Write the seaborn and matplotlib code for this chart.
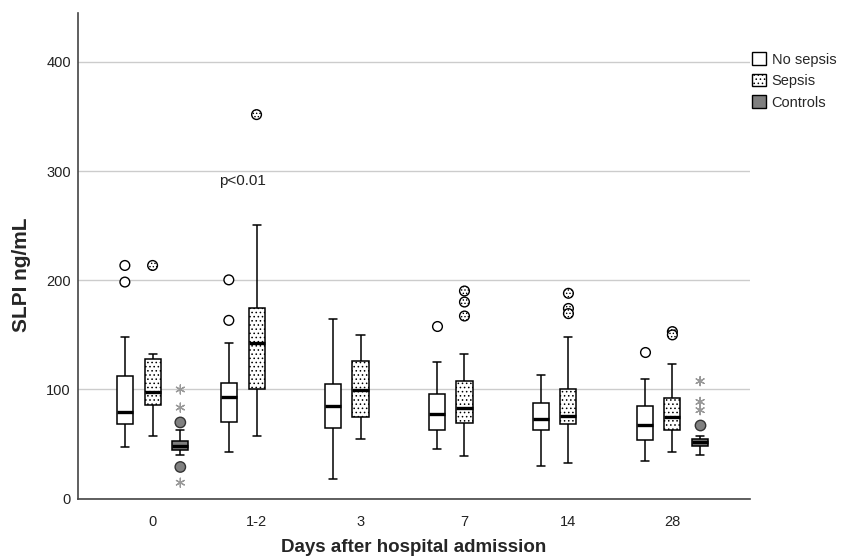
import pandas as pd
import matplotlib.pyplot as plt
import seaborn as sns
from matplotlib.patches import Patch

sns.set_theme(style='white')
plt.rcParams['font.family'] = ['Liberation Sans', 'DejaVu Sans']
plt.rcParams['hatch.linewidth'] = 0.6

days = ['0', '1-2', '3', '7', '14', '28']
groups = ['No sepsis', 'Sepsis', 'Controls']

# box stats: [whisker low, Q1, median, Q3, whisker high]
no_sepsis_box = [[47.5, 68, 79.6, 112.6, 147.8],
                 [42.9, 69.8, 93, 106.1, 143],
                 [17.6, 64.9, 84.5, 104.7, 164.8],
                 [45.4, 62.6, 77.3, 96.3, 124.8],
                 [29.8, 62.5, 72.6, 87.8, 112.9],
                 [34.3, 53.4, 67.4, 84.6, 109.5]]
sepsis_box = [[57.6, 85.4, 97.4, 127.9, 132.8],
              [57.6, 100, 143, 175, 250.3],
              [54.8, 74.7, 99.5, 126, 149.9],
              [38.9, 69.6, 82.8, 107.6, 132.8],
              [32.8, 68, 75.9, 100.7, 147.8],
              [42.3, 62.6, 74.8, 92.6, 123]]
controls_box = [[39.8, 44.4, 48, 52.6, 62.8],
                None, None, None, None,
                [39.6, 47.8, 51.8, 54.6, 57.3]]

# outliers (circles) and extreme values (asterisks)
no_sepsis_out = {'0': [213.6, 198.4], '1-2': [200.4, 163.3], '7': [158], '28': [134.6]}
sepsis_out = {'0': [213.6], '1-2': [351.8], '7': [190.2, 180.1, 167.3],
              '14': [188.1, 174.2, 169.5], '28': [153, 150]}
controls_out = {'0': [69.8, 29], '28': [67.4]}
controls_ext = {'0': [100, 83.4, 14.6], '28': [107.6, 88.6, 81]}


def long_table(group, stats):
    rows = []
    for d, s in zip(days, stats):
        if s is None:
            continue
        for v in s:
            rows.append((d, group, v))
    return pd.DataFrame(rows, columns=['day', 'group', 'value'])


def point_table(group, pts):
    rows = [(d, group, v) for d, vals in pts.items() for v in vals]
    return pd.DataFrame(rows, columns=['day', 'group', 'value'])


box_df = pd.concat([long_table('No sepsis', no_sepsis_box),
                    long_table('Sepsis', sepsis_box),
                    long_table('Controls', controls_box)])

fills = {'No sepsis': 'white', 'Sepsis': 'white', 'Controls': '#7f7f7f'}

fig = plt.figure(figsize=(8.45, 5.59), dpi=100)
ax = fig.add_axes([0.092, 0.108, 0.796, 0.869])

for g in groups:
    n0 = len(ax.patches)
    sns.boxplot(data=box_df[box_df['group'] == g], x='day', y='value', hue='group',
                order=days, hue_order=groups, palette=fills, dodge=True,
                whis=(0, 100), showfliers=False, width=0.8, gap=0.42,
                linewidth=1.1, linecolor='black',
                medianprops=dict(linewidth=2.4, color='black'),
                legend=False, ax=ax)
    if g == 'Sepsis':
        for p in ax.patches[n0:]:
            p.set_hatch('....')

common = dict(x='day', y='value', hue='group', order=days, hue_order=groups,
              dodge=True, jitter=False, legend=False, ax=ax)
sns.stripplot(data=point_table('No sepsis', no_sepsis_out), palette=fills,
              marker='o', size=7, linewidth=1, edgecolor='black', **common)
sns.stripplot(data=point_table('Sepsis', sepsis_out), palette=fills,
              marker='o', size=7, linewidth=1, edgecolor='black', hatch='.....', **common)
sns.stripplot(data=point_table('Controls', controls_out), palette={g: '#808080' for g in groups},
              marker='o', size=7.5, linewidth=1, edgecolor='#333333', **common)
sns.stripplot(data=point_table('Controls', controls_ext), palette={g: '#999999' for g in groups},
              marker=(6, 2, 0), size=6.5, linewidth=0.9, edgecolor='#9a9a9a', **common)

ax.text(0.86, 291, 'p<0.01', ha='center', va='center', fontsize=11, color='#222222')

ax.set_xlim(-0.72, 5.75)
ax.set_ylim(0, 445)
ax.set_yticks([0, 100, 200, 300, 400])
ax.yaxis.grid(True, color='#cccccc', linewidth=1)
ax.set_axisbelow(True)
for s in ['top', 'right']:
    ax.spines[s].set_visible(False)
for s in ['left', 'bottom']:
    ax.spines[s].set_color('#444444')
    ax.spines[s].set_linewidth(1.2)
ax.tick_params(axis='both', length=0, labelsize=10.5, colors='#222222')
ax.tick_params(axis='x', pad=12)
ax.tick_params(axis='y', pad=5)

ax.set_xlabel('Days after hospital admission', fontsize=13.5, fontweight='bold', labelpad=7)
ax.set_ylabel('SLPI ng/mL', fontsize=15, fontweight='bold')
ax.yaxis.set_label_coords(-0.07, 0.46)

handles = [Patch(facecolor='white', edgecolor='black', label='No sepsis'),
           Patch(facecolor='white', edgecolor='black', hatch='....', label='Sepsis'),
           Patch(facecolor='#7f7f7f', edgecolor='black', label='Controls')]
fig.legend(handles=handles, loc='upper left', bbox_to_anchor=(0.883, 0.917),
           frameon=False, fontsize=10.5, handlelength=0.95, handleheight=0.95,
           handletextpad=0.4, labelspacing=0.5, borderaxespad=0)

plt.savefig('out.png', dpi=100)
